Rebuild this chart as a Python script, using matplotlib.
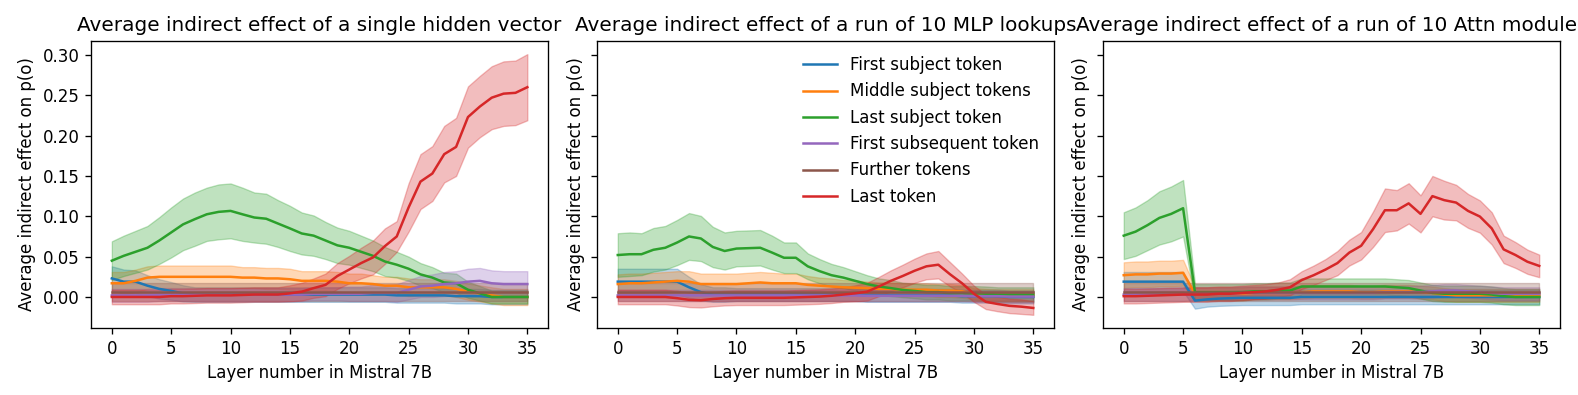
import matplotlib
matplotlib.use("Agg")
import matplotlib.pyplot as plt
import numpy as np

layers = list(range(36))
series_labels = ["First subject token", "Middle subject tokens", "Last subject token",
                 "First subsequent token", "Further tokens", "Last token"]
titles = ["Average indirect effect of a single hidden vector",
          "Average indirect effect of a run of 10 MLP lookups",
          "Average indirect effect of a run of 10 Attn modules"]

# ---------------- Panel 1: single hidden vector ----------------
h_first = [0.023, 0.019, 0.019, 0.014, 0.010, 0.0075, 0.0045, 0.003, 0.003, 0.003, 0.003, 0.003,
           0.003, 0.003, 0.003, 0.003, 0.003, 0.003, 0.003, 0.003, 0.003, 0.003, 0.003, 0.003,
           0.002, 0.002, 0.002, 0.002, 0.002, 0.001, 0.001, 0.001, 0.0, 0.0, 0.0, 0.0]
h_first_ci = [0.015, 0.015, 0.014, 0.013, 0.012, 0.011, 0.010, 0.009, 0.009, 0.009, 0.009, 0.009,
              0.009, 0.009, 0.009, 0.009, 0.009, 0.009, 0.009, 0.009, 0.009, 0.009, 0.009, 0.009,
              0.009, 0.009, 0.009, 0.009, 0.009, 0.009, 0.009, 0.009, 0.009, 0.009, 0.009, 0.009]
h_middle = [0.017, 0.017, 0.020, 0.024, 0.025, 0.025, 0.025, 0.025, 0.025, 0.025, 0.025, 0.024,
            0.024, 0.023, 0.023, 0.022, 0.020, 0.020, 0.020, 0.019, 0.017, 0.017, 0.016, 0.014,
            0.014, 0.012, 0.012, 0.012, 0.012, 0.010, 0.0066, 0.0045, 0.002, 0.0, 0.0, 0.0]
h_middle_ci = [0.014, 0.014, 0.014, 0.014, 0.014, 0.014, 0.014, 0.014, 0.014, 0.014, 0.014, 0.013,
               0.013, 0.013, 0.013, 0.013, 0.012, 0.012, 0.012, 0.012, 0.012, 0.012, 0.011, 0.011,
               0.011, 0.011, 0.010, 0.010, 0.010, 0.010, 0.010, 0.010, 0.010, 0.010, 0.010, 0.010]
h_last_subj = [0.045, 0.051, 0.056, 0.061, 0.070, 0.080, 0.090, 0.0965, 0.1025, 0.1055, 0.1067, 0.1025,
               0.0985, 0.097, 0.091, 0.085, 0.0787, 0.076, 0.070, 0.064, 0.061, 0.056, 0.051, 0.044,
               0.040, 0.035, 0.028, 0.024, 0.018, 0.017, 0.009, 0.0045, 0.0, 0.0, 0.0, 0.0]
h_last_subj_ci = [0.024, 0.025, 0.026, 0.027, 0.029, 0.031, 0.032, 0.033, 0.033, 0.034, 0.034, 0.033,
                  0.031, 0.031, 0.029, 0.028, 0.026, 0.025, 0.023, 0.022, 0.021, 0.020, 0.019, 0.018,
                  0.016, 0.015, 0.014, 0.013, 0.012, 0.012, 0.010, 0.009, 0.008, 0.008, 0.008, 0.008]
h_subseq = [0.002, 0.002, 0.002, 0.002, 0.003, 0.003, 0.003, 0.003, 0.003, 0.003, 0.003, 0.003,
            0.003, 0.003, 0.003, 0.003, 0.003, 0.004, 0.004, 0.004, 0.004, 0.004, 0.005, 0.005,
            0.005, 0.009, 0.013, 0.014, 0.016, 0.017, 0.019, 0.020, 0.017, 0.016, 0.016, 0.016]
h_subseq_ci = [0.008, 0.008, 0.008, 0.008, 0.008, 0.008, 0.008, 0.008, 0.008, 0.008, 0.008, 0.008,
               0.008, 0.008, 0.008, 0.008, 0.008, 0.008, 0.008, 0.008, 0.009, 0.009, 0.010, 0.010,
               0.011, 0.012, 0.013, 0.014, 0.015, 0.015, 0.016, 0.016, 0.016, 0.016, 0.016, 0.016]
h_further = [0.006, 0.006, 0.006, 0.006, 0.006, 0.006, 0.006, 0.006, 0.006, 0.006, 0.006, 0.006,
             0.006, 0.006, 0.006, 0.006, 0.006, 0.006, 0.006, 0.006, 0.006, 0.006, 0.006, 0.006,
             0.006, 0.006, 0.006, 0.006, 0.006, 0.006, 0.006, 0.006, 0.006, 0.006, 0.006, 0.006]
h_further_ci = [0.011] * 36
h_last = [0.0, 0.0, 0.0, 0.0, 0.0, 0.001, 0.001, 0.0015, 0.002, 0.002, 0.002, 0.0025,
          0.003, 0.003, 0.003, 0.0045, 0.0066, 0.011, 0.015, 0.026, 0.034, 0.042, 0.049, 0.063,
          0.075, 0.111, 0.143, 0.153, 0.177, 0.186, 0.223, 0.236, 0.247, 0.252, 0.253, 0.260]
h_last_ci = [0.009, 0.009, 0.009, 0.009, 0.009, 0.009, 0.009, 0.009, 0.009, 0.009, 0.009, 0.009,
             0.009, 0.009, 0.009, 0.010, 0.011, 0.012, 0.014, 0.016, 0.017, 0.019, 0.021, 0.022,
             0.019, 0.030, 0.034, 0.034, 0.035, 0.036, 0.038, 0.038, 0.039, 0.040, 0.040, 0.041]

# ---------------- Panel 2: run of 10 MLP lookups ----------------
m_first = [0.019, 0.019, 0.019, 0.019, 0.019, 0.019, 0.012, 0.006, 0.003, 0.003, 0.003, 0.003,
           0.003, 0.003, 0.003, 0.003, 0.003, 0.003, 0.003, 0.003, 0.003, 0.002, 0.002, 0.002,
           0.002, 0.002, 0.002, 0.002, 0.002, 0.001, 0.001, 0.001, 0.001, 0.0, 0.0, 0.0]
m_first_ci = [0.016, 0.016, 0.016, 0.016, 0.016, 0.016, 0.013, 0.010, 0.009, 0.009, 0.008, 0.008,
              0.008, 0.008, 0.008, 0.008, 0.008, 0.008, 0.008, 0.008, 0.008, 0.008, 0.008, 0.008,
              0.008, 0.008, 0.008, 0.008, 0.008, 0.008, 0.008, 0.008, 0.008, 0.008, 0.008, 0.008]
m_middle = [0.016, 0.017, 0.017, 0.018, 0.019, 0.020, 0.019, 0.016, 0.016, 0.016, 0.016, 0.017,
            0.018, 0.017, 0.017, 0.017, 0.015, 0.014, 0.013, 0.012, 0.0115, 0.011, 0.010, 0.010,
            0.009, 0.009, 0.009, 0.008, 0.008, 0.007, 0.004, 0.003, 0.0025, 0.0025, 0.0025, 0.0025]
m_middle_ci = [0.012, 0.012, 0.012, 0.012, 0.012, 0.012, 0.013, 0.013, 0.013, 0.013, 0.013, 0.013,
               0.013, 0.013, 0.012, 0.012, 0.011, 0.010, 0.010, 0.009, 0.009, 0.008, 0.008, 0.008,
               0.008, 0.008, 0.008, 0.008, 0.008, 0.008, 0.007, 0.007, 0.007, 0.007, 0.007, 0.007]
m_last_subj = [0.052, 0.053, 0.053, 0.0585, 0.061, 0.0675, 0.075, 0.0725, 0.062, 0.057, 0.060, 0.0605,
               0.061, 0.055, 0.0486, 0.0486, 0.038, 0.032, 0.027, 0.024, 0.020, 0.016, 0.013, 0.011,
               0.0087, 0.0075, 0.006, 0.006, 0.0045, 0.0045, 0.0045, 0.004, 0.003, 0.003, 0.003, 0.003]
m_last_subj_ci = [0.027, 0.027, 0.026, 0.027, 0.027, 0.028, 0.029, 0.028, 0.025, 0.023, 0.022, 0.022,
                  0.022, 0.021, 0.019, 0.019, 0.016, 0.015, 0.014, 0.013, 0.012, 0.011, 0.010, 0.010,
                  0.009, 0.009, 0.009, 0.009, 0.009, 0.009, 0.009, 0.009, 0.009, 0.009, 0.009, 0.009]
m_subseq = [0.002, 0.002, 0.002, 0.002, 0.002, 0.002, 0.002, 0.002, 0.002, 0.002, 0.002, 0.002,
            0.002, 0.002, 0.002, 0.002, 0.002, 0.002, 0.002, 0.002, 0.002, 0.0015, 0.0015, 0.0015,
            0.0015, 0.0015, 0.0015, 0.0015, 0.0015, 0.0015, 0.001, 0.001, 0.001, 0.0005, 0.0005, 0.0005]
m_subseq_ci = [0.007] * 36
m_further = [0.006, 0.006, 0.006, 0.006, 0.006, 0.006, 0.006, 0.006, 0.006, 0.006, 0.006, 0.006,
             0.006, 0.006, 0.006, 0.006, 0.006, 0.006, 0.006, 0.006, 0.006, 0.006, 0.006, 0.006,
             0.006, 0.006, 0.006, 0.006, 0.006, 0.006, 0.006, 0.006, 0.006, 0.006, 0.006, 0.006]
m_further_ci = [0.011] * 36
m_last = [0.0, 0.0, 0.0, 0.0, 0.0, -0.0015, -0.0035, -0.004, -0.0025, -0.0015, -0.001, -0.001,
          -0.001, -0.001, -0.001, -0.0005, 0.0, 0.0005, 0.0015, 0.003, 0.0045, 0.0066, 0.013, 0.020,
          0.026, 0.0325, 0.038, 0.040, 0.028, 0.017, 0.004, -0.006, -0.0087, -0.011, -0.012, -0.0136]
m_last_ci = [0.009, 0.009, 0.009, 0.009, 0.009, 0.009, 0.009, 0.009, 0.009, 0.009, 0.009, 0.009,
             0.009, 0.009, 0.009, 0.009, 0.009, 0.009, 0.009, 0.009, 0.010, 0.011, 0.012, 0.013,
             0.014, 0.015, 0.016, 0.017, 0.015, 0.012, 0.010, 0.009, 0.009, 0.009, 0.009, 0.0085]

# ---------------- Panel 3: run of 10 Attn modules ----------------
a_first = [0.019, 0.019, 0.019, 0.019, 0.019, 0.019, -0.0045, -0.003, -0.002, -0.0015, -0.001, -0.001,
           -0.001, -0.001, -0.001, 0.0, 0.0, 0.0, 0.0, 0.0, 0.0, 0.0, 0.0, 0.0,
           0.0, 0.0, 0.0, 0.0, 0.0, 0.0, 0.0, 0.0, 0.0, 0.0, 0.0, 0.0]
a_first_ci = [0.012, 0.012, 0.012, 0.012, 0.012, 0.012, 0.010, 0.009, 0.009, 0.009, 0.009, 0.009,
              0.009, 0.009, 0.009, 0.009, 0.009, 0.009, 0.009, 0.009, 0.009, 0.009, 0.009, 0.009,
              0.009, 0.009, 0.009, 0.009, 0.009, 0.009, 0.009, 0.009, 0.009, 0.009, 0.009, 0.009]
a_middle = [0.027, 0.028, 0.028, 0.029, 0.029, 0.030, 0.004, 0.004, 0.004, 0.004, 0.004, 0.005,
            0.005, 0.005, 0.005, 0.006, 0.007, 0.007, 0.007, 0.007, 0.006, 0.006, 0.007, 0.007,
            0.007, 0.006, 0.005, 0.003, 0.002, 0.002, 0.002, 0.002, 0.002, 0.002, 0.002, 0.002]
a_middle_ci = [0.016, 0.016, 0.016, 0.016, 0.016, 0.016, 0.008, 0.008, 0.008, 0.008, 0.008, 0.008,
               0.008, 0.008, 0.008, 0.008, 0.008, 0.008, 0.008, 0.008, 0.008, 0.008, 0.008, 0.008,
               0.008, 0.008, 0.008, 0.008, 0.008, 0.008, 0.008, 0.008, 0.008, 0.008, 0.008, 0.008]
a_last_subj = [0.076, 0.081, 0.089, 0.098, 0.103, 0.110, 0.006, 0.006, 0.006, 0.006, 0.006, 0.007,
               0.007, 0.008, 0.008, 0.013, 0.013, 0.013, 0.013, 0.013, 0.013, 0.013, 0.013, 0.012,
               0.011, 0.008, 0.005, 0.004, 0.004, 0.004, 0.004, 0.003, 0.001, 0.0, 0.0, 0.0]
a_last_subj_ci = [0.029, 0.030, 0.031, 0.033, 0.034, 0.035, 0.010, 0.010, 0.010, 0.010, 0.010, 0.010,
                  0.010, 0.010, 0.010, 0.010, 0.010, 0.010, 0.010, 0.010, 0.010, 0.010, 0.010, 0.010,
                  0.010, 0.010, 0.010, 0.010, 0.010, 0.010, 0.010, 0.010, 0.010, 0.010, 0.010, 0.010]
a_subseq = [0.003, 0.003, 0.003, 0.003, 0.003, 0.003, 0.004, 0.004, 0.004, 0.004, 0.005, 0.005,
            0.005, 0.005, 0.005, 0.005, 0.005, 0.005, 0.005, 0.005, 0.005, 0.005, 0.006, 0.006,
            0.006, 0.006, 0.007, 0.008, 0.008, 0.007, 0.006, 0.005, 0.004, 0.004, 0.004, 0.004]
a_subseq_ci = [0.008] * 36
a_further = [0.006, 0.006, 0.006, 0.006, 0.006, 0.006, 0.006, 0.006, 0.006, 0.006, 0.006, 0.006,
             0.006, 0.006, 0.006, 0.006, 0.006, 0.006, 0.006, 0.006, 0.006, 0.006, 0.006, 0.006,
             0.006, 0.006, 0.006, 0.006, 0.006, 0.006, 0.006, 0.006, 0.006, 0.006, 0.006, 0.006]
a_further_ci = [0.011] * 36
a_last = [0.001, 0.001, 0.0015, 0.002, 0.0025, 0.003, 0.003, 0.003, 0.004, 0.004, 0.005, 0.006,
          0.007, 0.009, 0.012, 0.021, 0.027, 0.034, 0.042, 0.055, 0.0635, 0.084, 0.1075, 0.1075,
          0.116, 0.103, 0.125, 0.120, 0.117, 0.1067, 0.0997, 0.085, 0.059, 0.052, 0.0437, 0.0385]
a_last_ci = [0.009, 0.009, 0.009, 0.009, 0.009, 0.009, 0.009, 0.009, 0.009, 0.009, 0.009, 0.009,
             0.009, 0.009, 0.010, 0.011, 0.012, 0.013, 0.015, 0.016, 0.017, 0.022, 0.027, 0.025,
             0.025, 0.023, 0.025, 0.024, 0.022, 0.021, 0.020, 0.020, 0.017, 0.016, 0.015, 0.014]

colors = ["tab:blue", "tab:orange", "tab:green", "tab:purple", "tab:brown", "tab:red"]

panels = [
    [(h_first, h_first_ci), (h_middle, h_middle_ci), (h_last_subj, h_last_subj_ci),
     (h_subseq, h_subseq_ci), (h_further, h_further_ci), (h_last, h_last_ci)],
    [(m_first, m_first_ci), (m_middle, m_middle_ci), (m_last_subj, m_last_subj_ci),
     (m_subseq, m_subseq_ci), (m_further, m_further_ci), (m_last, m_last_ci)],
    [(a_first, a_first_ci), (a_middle, a_middle_ci), (a_last_subj, a_last_subj_ci),
     (a_subseq, a_subseq_ci), (a_further, a_further_ci), (a_last, a_last_ci)],
]

DPI = 120
fig, axes = plt.subplots(1, 3, figsize=(1578 / DPI, 395 / DPI), dpi=DPI, sharey=True)
fig.subplots_adjust(left=0.0577, right=0.9886, bottom=0.170, top=0.896, wspace=0.107)

x = np.array(layers)
for ax, title, panel in zip(axes, titles, panels):
    for (mean, ci), color, label in zip(panel, colors, series_labels):
        mean = np.array(mean)
        ci = np.array(ci)
        ax.plot(x, mean, color=color, label=label, linewidth=1.5)
        ax.fill_between(x, mean - ci, mean + ci, color=color, alpha=0.3, linewidth=0.8)
    ax.set_title(title)
    ax.set_xlabel("Layer number in Mistral 7B")
    ax.set_ylabel("Average indirect effect on p(o)")
    ax.set_xticks([0, 5, 10, 15, 20, 25, 30, 35])

axes[1].legend(loc="upper right", frameon=False)

fig.savefig("out.png", dpi=DPI)
